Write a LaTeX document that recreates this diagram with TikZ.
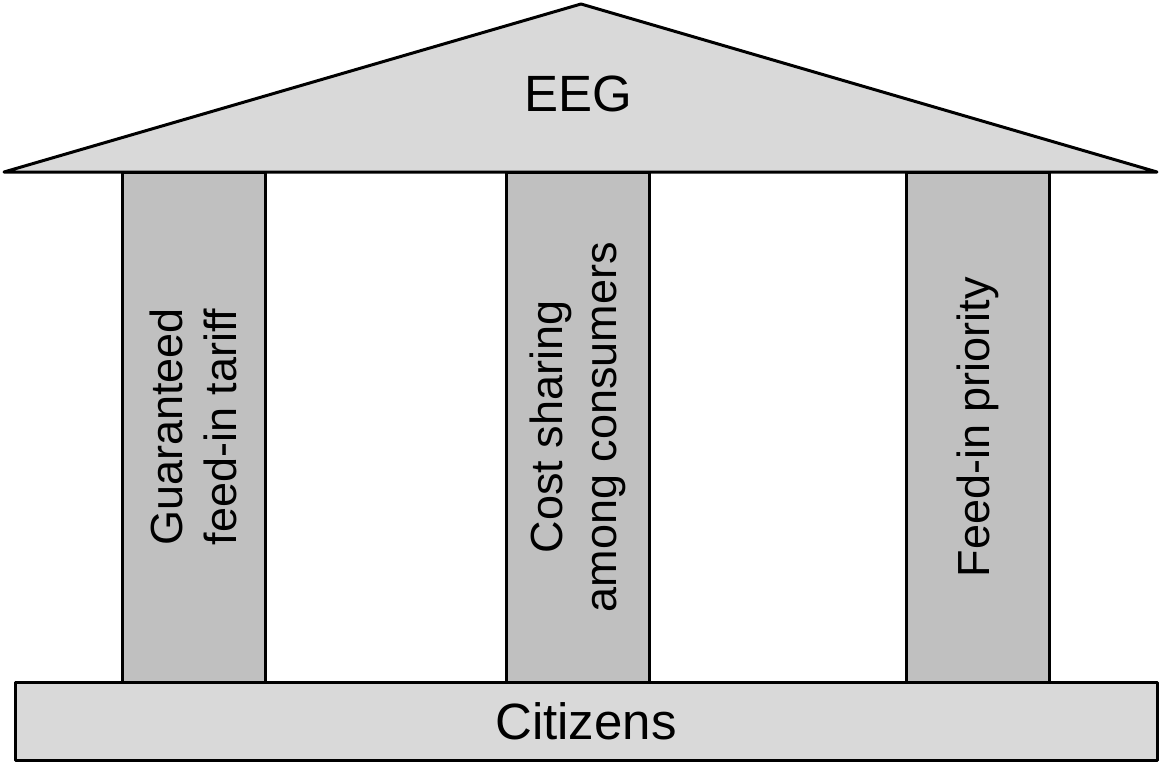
\documentclass[tikz,border=0pt]{standalone}
\usepackage{fontspec}
\setmainfont{Liberation Sans}
\usetikzlibrary{positioning}
\definecolor{lightfill}{HTML}{D9D9D9}
\definecolor{pillarfill}{HTML}{C0C0C0}
\begin{document}
\begin{tikzpicture}[x=1pt,y=-1pt,
    outline/.style={draw=black,line width=3pt,line join=round},
    pillar/.style={outline,fill=pillarfill,rotate=90,minimum width=510pt,minimum height=143pt,
      inner sep=0pt,align=center,font=\fontsize{45}{54}\selectfont},
    bigtext/.style={font=\fontsize{51}{60}\selectfont}]
      \useasboundingbox (0,0) rectangle (1160,763);
      \coordinate (eaveL) at (4,172);
      \coordinate (eaveR) at (1157,172);
      \coordinate (ridge) at (581,4);
      % roof
      \draw[outline,fill=lightfill] (eaveL) -- (ridge) -- (eaveR) -- cycle;
      \node[bigtext,anchor=base] (eeg) at (578,111) {EEG};
      % pillars
      \node[pillar] (tariff) at (193.5,427) {Guaranteed\\feed-in tariff};
      \node[pillar] (costs) at (578,427) {Cost sharing\\among consumers};
      \node[pillar] (priority) at (978,427) {Feed-in priority};
      % base
      \node[outline,fill=lightfill,bigtext,minimum width=1142pt,minimum height=78pt,inner sep=0pt]
        (citizens) at (586,721) {Citizens};
    \end{tikzpicture}
\end{document}
